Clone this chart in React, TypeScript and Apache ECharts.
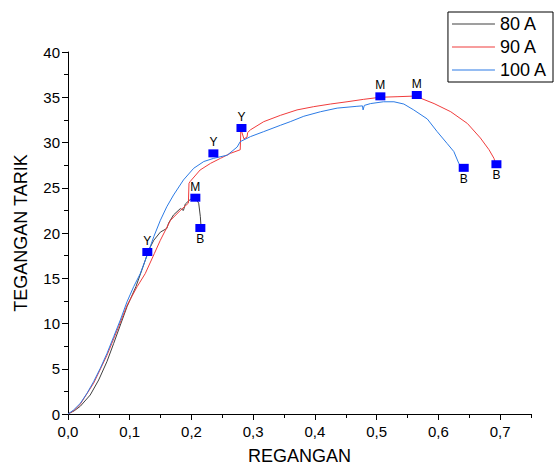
import React, { useEffect, useRef } from "react";
import * as echarts from "echarts";

const seriesNames = ["80 A", "90 A", "100 A"];
const seriesColors = ["#404040", "#f03c3c", "#2c7be5"];

const data80: number[][] = [
  [0, 0], [0.01, 0.35], [0.02, 0.86], [0.036, 2.1], [0.0497, 3.76], [0.063, 5.78],
  [0.074, 7.8], [0.0848, 9.83], [0.0956, 11.86], [0.11, 14.07], [0.1225, 16.46],
  [0.1307, 18.1], [0.139, 19.2], [0.1496, 20.1], [0.16, 20.5], [0.163, 21.1],
  [0.171, 22.0], [0.182, 22.7], [0.187, 22.5], [0.19, 23.2], [0.198, 23.7],
  [0.206, 23.9], [0.2117, 23.3], [0.2144, 21.8], [0.2155, 20.7],
];

const data90: number[][] = [
  [0, 0], [0.01, 0.4], [0.02, 1.1], [0.0415, 3.4], [0.0632, 6.5], [0.082, 9.65],
  [0.0956, 12.0], [0.112, 14.07], [0.125, 15.5], [0.14, 17.75], [0.1496, 19.2],
  [0.166, 21.4], [0.182, 22.5], [0.195, 23.3], [0.196, 25.5], [0.198, 25.7],
  [0.214, 26.96], [0.231, 27.7], [0.247, 28.25], [0.263, 28.8], [0.279, 29.2],
  [0.28, 31.5], [0.285, 30.4], [0.29, 30.6], [0.291, 31.1], [0.2955, 31.4],
  [0.317, 32.3], [0.344, 33.0], [0.371, 33.6], [0.398, 33.96], [0.425, 34.25],
  [0.452, 34.5], [0.479, 34.77], [0.506, 35.0], [0.533, 35.06], [0.566, 35.14],
  [0.571, 34.9], [0.593, 34.3], [0.62, 33.4], [0.647, 32.1], [0.668, 30.5],
  [0.682, 29.2], [0.69, 28.25], [0.693, 27.6],
];

const data100: number[][] = [
  [0, 0], [0.009, 0.44], [0.02, 1.18], [0.0308, 2.29], [0.0415, 3.57], [0.0523, 5.05],
  [0.0632, 6.7], [0.074, 8.54], [0.0848, 10.39], [0.0956, 12.4], [0.1064, 14.07],
  [0.117, 15.5], [0.128, 17.5], [0.139, 19.6], [0.1496, 21.4], [0.16, 22.9],
  [0.171, 24.2], [0.187, 25.86], [0.2036, 27.15], [0.22, 27.9], [0.236, 28.25],
  [0.258, 28.6], [0.274, 29.5], [0.279, 30.1], [0.29, 30.46], [0.2955, 30.65],
  [0.317, 31.2], [0.344, 31.9], [0.36, 32.3], [0.382, 32.9], [0.409, 33.4],
  [0.436, 33.8], [0.468, 34.0], [0.477, 34.05], [0.478, 33.6], [0.48, 34.1],
  [0.49, 34.3], [0.511, 34.5], [0.528, 34.5], [0.544, 34.25], [0.56, 33.6],
  [0.582, 32.6], [0.598, 31.2], [0.614, 29.9], [0.625, 29.0], [0.633, 27.7],
  [0.639, 27.2],
];

const markerPoints: number[][] = [
  [0.1285, 17.9], [0.2063, 23.9], [0.2144, 20.55], [0.2355, 28.8], [0.281, 31.6],
  [0.506, 35.1], [0.565, 35.25], [0.641, 27.2], [0.694, 27.6],
];
const markerLabels = ["Y", "M", "B", "Y", "Y", "M", "M", "B", "B"];

const xMajorTicks = [0, 0.1, 0.2, 0.3, 0.4, 0.5, 0.6, 0.7];

const FONT = "Liberation Sans, Arial, sans-serif";

export default function App() {
  const ref = useRef<HTMLDivElement>(null);

  useEffect(() => {
    document.body.style.margin = "0";
    if (!ref.current) return;
    const chart = echarts.init(ref.current, null, { renderer: "svg" });
    const lineData = [data80, data90, data100];

    const option: any = {
      animation: false,
      backgroundColor: "#ffffff",
      textStyle: { fontFamily: FONT },
      grid: { left: 68, right: 27, top: 52, bottom: 56 },
      legend: {
        orient: "vertical",
        right: 5,
        top: 12,
        data: seriesNames,
        icon: "rect",
        itemWidth: 43,
        itemHeight: 1.2,
        itemGap: 5,
        padding: [3, 6, 3, 4],
        borderColor: "#000",
        borderWidth: 1,
        borderRadius: 0,
        textStyle: { fontSize: 18, color: "#000", fontFamily: FONT, lineHeight: 18 },
      },
      xAxis: [
        {
          type: "value",
          min: 0,
          max: 0.75,
          name: "REGANGAN",
          nameLocation: "middle",
          nameGap: 33,
          nameTextStyle: { fontSize: 18, color: "#000", fontFamily: FONT },
          splitLine: { show: false },
          axisLine: { show: true, lineStyle: { color: "#000", width: 1 } },
          axisTick: { show: true, customValues: xMajorTicks, length: 6, lineStyle: { color: "#000" } },
          axisLabel: {
            customValues: xMajorTicks,
            margin: 10,
            fontSize: 15,
            color: "#000",
            fontFamily: FONT,
            formatter: (v: number) => v.toFixed(1).replace(".", ","),
          },
        },
        {
          type: "value",
          min: 0,
          max: 0.75,
          interval: 0.05,
          position: "bottom",
          splitLine: { show: false },
          axisLine: { show: false },
          axisTick: { show: true, length: 4, lineStyle: { color: "#000" } },
          axisLabel: { show: false },
        },
      ],
      yAxis: {
        type: "value",
        min: 0,
        max: 40,
        interval: 5,
        name: "TEGANGAN TARIK",
        nameLocation: "middle",
        nameGap: 38,
        nameTextStyle: { fontSize: 18, color: "#000", fontFamily: FONT },
        splitLine: { show: false },
        axisLine: { show: true, lineStyle: { color: "#000", width: 1 } },
        axisTick: { show: true, length: 6, lineStyle: { color: "#000" } },
        minorTick: { show: true, splitNumber: 2, length: 4, lineStyle: { color: "#000" } },
        minorSplitLine: { show: false },
        axisLabel: { margin: 8, fontSize: 15, color: "#000", fontFamily: FONT },
      },
      series: [
        ...seriesNames.map((name, i) => ({
          name,
          type: "line",
          xAxisIndex: 0,
          data: lineData[i],
          symbol: "none",
          showSymbol: false,
          lineStyle: { color: seriesColors[i], width: 1 },
          itemStyle: { color: seriesColors[i] },
          z: 2 + i,
        })),
        {
          name: "markers",
          type: "scatter",
          xAxisIndex: 0,
          symbol: "rect",
          symbolSize: [10, 8],
          itemStyle: { color: "#0000ff", opacity: 1 },
          z: 10,
          data: markerPoints.map((p, i) => ({
            value: p,
            name: markerLabels[i],
            label: {
              show: true,
              position: markerLabels[i] === "B" ? "bottom" : "top",
              distance: 1,
              formatter: markerLabels[i],
              fontSize: 12,
              color: "#000",
              fontFamily: FONT,
            },
          })),
        },
      ],
    };

    chart.setOption(option);
    return () => chart.dispose();
  }, []);

  return (
    <div
      ref={ref}
      style={{ position: "absolute", left: 0, top: 0, width: 558, height: 470 }}
    />
  );
}
